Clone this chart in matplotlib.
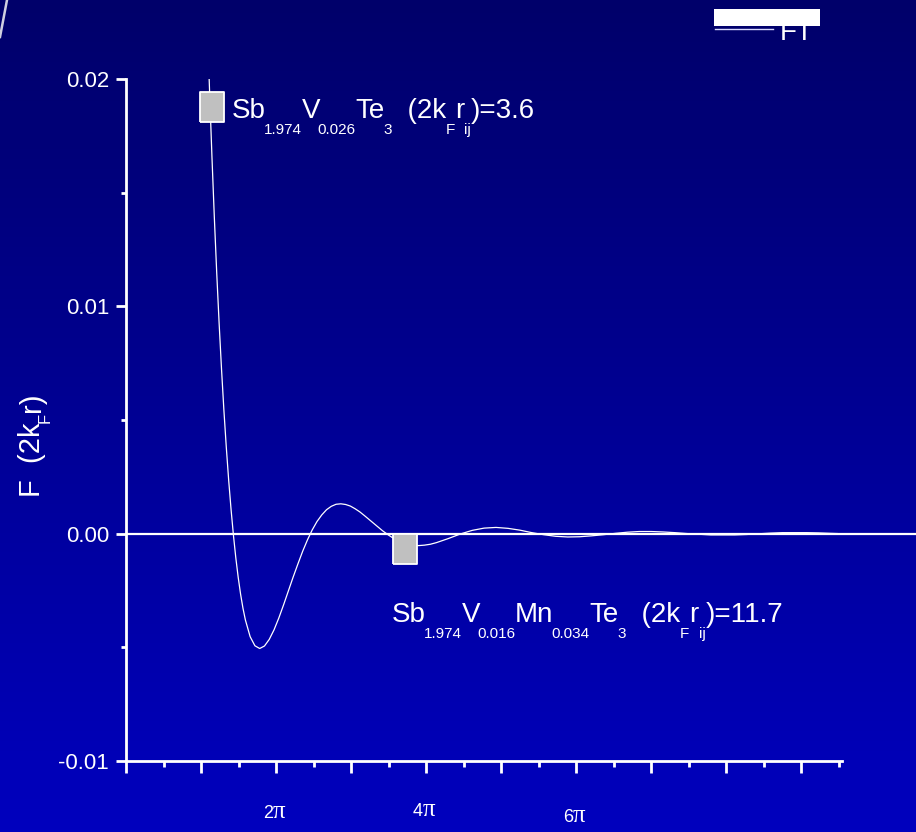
import matplotlib
matplotlib.use("Agg")
import matplotlib.pyplot as plt
import numpy as np
from matplotlib.colors import LinearSegmentedColormap
from matplotlib.lines import Line2D
from matplotlib.patches import Rectangle
from matplotlib.transforms import offset_copy, blended_transform_factory

SANS = ["Liberation Sans", "DejaVu Sans"]
SERIF = ["Liberation Serif", "DejaVu Serif"]
plt.rcParams["font.family"] = SANS

# RKKY range function F(2 kF r) sampled along 2 kF r
x_2kfr = [3.48, 3.5, 3.6, 3.7, 3.8, 3.9, 4.0, 4.1, 4.2, 4.3, 4.4, 4.5, 4.6,
          4.7, 4.8, 4.9, 5.0, 5.2, 5.4, 5.6, 5.8, 6.0, 6.2, 6.4, 6.6, 6.8,
          7.0, 7.2, 7.4, 7.6, 7.8, 8.0, 8.2, 8.4, 8.6, 8.8, 9.0, 9.2, 9.4,
          9.6, 9.8, 10.0, 10.25, 10.5, 10.75, 11.0, 11.25, 11.5, 11.75, 12.0,
          12.25, 12.5, 12.75, 13.0, 13.5, 14.0, 14.5, 15.0, 15.5, 16.0, 16.5,
          17.0, 17.5, 18.0, 18.5, 19.0, 19.5, 20.0, 20.5, 21.0, 21.5, 22.0,
          22.5, 23.0, 23.5, 24.0, 24.5, 25.0, 25.5, 26.0, 26.5, 27.0, 27.5,
          28.0, 28.5, 29.0, 29.5, 29.8]
F_vals = [0.02012, 0.01950, 0.01659, 0.01392, 0.01148, 0.00927, 0.00726,
          0.00544, 0.00382, 0.00236, 0.00107, -0.00007, -0.00107, -0.00193,
          -0.00267, -0.00329, -0.00380, -0.00454, -0.00494, -0.00506,
          -0.00495, -0.00466, -0.00424, -0.00372, -0.00314, -0.00253,
          -0.00192, -0.00134, -0.00078, -0.00028, 0.00016, 0.00053, 0.00082,
          0.00105, 0.00120, 0.00129, 0.00131, 0.00128, 0.00121, 0.00109,
          0.00095, 0.00078, 0.00056, 0.00034, 0.00012, -0.00007, -0.00024,
          -0.00037, -0.00046, -0.00051, -0.00053, -0.00051, -0.00047,
          -0.00040, -0.00022, -0.00002, 0.00014, 0.00024, 0.00027, 0.00023,
          0.00015, 0.00004, -0.00005, -0.00012, -0.00015, -0.00014, -0.00010,
          -0.00005, 0.00001, 0.00006, 0.00009, 0.00009, 0.00007, 0.00004,
          0.00000, -0.00003, -0.00006, -0.00006, -0.00006, -0.00004, -0.00001,
          0.00002, 0.00004, 0.00004, 0.00004, 0.00003, 0.00001, 0.00000]

# marked compositions: (2 kF r_ij) and F value
site_x = [3.6, 11.7]
site_F = [0.0188, -0.00067]
site_formula = [
    [("Sb", "m"), ("1.974", "s"), ("V", "m"), ("0.026", "s"), ("Te", "m"), ("3", "s")],
    [("Sb", "m"), ("1.974", "s"), ("V", "m"), ("0.016", "s"), ("Mn", "m"),
     ("0.034", "s"), ("Te", "m"), ("3", "s")],
]

x_major_mult = [0, 1, 2, 3, 4, 5, 6, 7, 8, 9]
x_labeled_mult = [2, 4, 6]
y_ticks = [-0.01, 0.0, 0.01, 0.02]
y_tick_labels = ["-0.01", "0.00", "0.01", "0.02"]

W, H = 916, 832
fig = plt.figure(figsize=(W / 100, H / 100), dpi=100)

# vertical blue gradient backdrop
bg = fig.add_axes([0, 0, 1, 1], zorder=-10)
grad = np.linspace(0, 1, 256).reshape(-1, 1)
bg_cmap = LinearSegmentedColormap.from_list("bg", ["#00006a", "#0000be"])
bg.imshow(grad, aspect="auto", cmap=bg_cmap, extent=[0, 1, 0, 1], origin="upper")
bg.set_axis_off()

ax = fig.add_axes([126 / W, 71.3 / H, 716.2 / W, 681.4 / H])
ax.patch.set_alpha(0)
ax.set_xlim(0, 30)
ax.set_ylim(-0.01, 0.02)

ax.plot(x_2kfr, F_vals, color="white", lw=0.9, zorder=3)
ax.axhline(0, xmin=0, xmax=(W - 126) / 716.2, color="white", lw=1.6,
           clip_on=False, zorder=2)

# gray rectangular markers
rect_marker = [(-0.397, -0.5), (0.397, -0.5), (0.397, 0.5), (-0.397, 0.5), (-0.397, -0.5)]
ax.plot(site_x, site_F, linestyle="none", marker=rect_marker, markersize=21,
        markerfacecolor="#c0c0c0", markeredgecolor="white", markeredgewidth=1.3,
        zorder=5, clip_on=False)

for side in ("top", "right"):
    ax.spines[side].set_visible(False)
for side in ("left", "bottom"):
    ax.spines[side].set_color("white")
    ax.spines[side].set_linewidth(2)

ax.set_xticks([k * np.pi for k in x_major_mult])
ax.set_xticklabels([])
ax.set_xticks([(k + 0.5) * np.pi for k in x_major_mult], minor=True)
ax.set_yticks(y_ticks)
ax.set_yticklabels(y_tick_labels)
ax.set_yticks([-0.005, 0.005, 0.015], minor=True)
ax.tick_params(axis="x", which="major", length=8.6, width=2, color="white")
ax.tick_params(axis="x", which="minor", length=4.3, width=2, color="white")
ax.tick_params(axis="y", which="major", length=7.2, width=2, color="white",
               labelcolor="white", labelsize=16, pad=5)
ax.tick_params(axis="y", which="minor", length=3.6, width=2, color="white")

renderer = fig.canvas.get_renderer()


def rich_text(x, y, transform, parts, rotation=0, zorder=6):
    """Lay out text runs (text, size, drop, family, kern) one after the other."""
    adv = 0.0
    for text, size, drop, family, kern in parts:
        if rotation == 90:
            ox, oy = drop, adv
        else:
            ox, oy = adv, -drop
        tr = offset_copy(transform, fig=fig, x=ox, y=oy, units="points")
        t = fig.text(x, y, text, transform=tr, fontsize=size, color="white",
                     rotation=rotation, rotation_mode="anchor", ha="left",
                     va="baseline", family=family, zorder=zorder)
        bb = t.get_window_extent(renderer)
        adv += (bb.height if rotation == 90 else bb.width) * 72.0 / fig.dpi + kern


MAIN, SUB, DROP = 20, 11, 11.5
kerning = {"V": -2.5, "Sb": -1.0, "Mn": -1.5, "Te": -1.0}


def formula_parts(runs):
    out = []
    for text, kind in runs:
        if kind == "m":
            out.append((text, MAIN, 0.0, SANS, kerning.get(text, 0.0)))
        else:
            out.append((text, SUB, DROP, SANS, 0.0))
    return out


label_pos = [(231.5, 117.7), (391.5, 621.7)]
for (px, py), formula, xv in zip(label_pos, site_formula, site_x):
    tail = [("  (2k", "m"), ("F", "s"), ("r", "m"), ("ij", "s"), (")=%.1f" % xv, "m")]
    rich_text(px / W, 1 - py / H, fig.transFigure, formula_parts(formula + tail))

# x tick labels written as multiples of pi
xlab_tr = blended_transform_factory(ax.transData, fig.transFigure)
xlab_baseline = [818, 816, 822]
for k, base in zip(x_labeled_mult, xlab_baseline):
    tr = offset_copy(xlab_tr, fig=fig, x=-13, y=0, units="dots")
    rich_text(k * np.pi, 1 - base / H, tr,
              [(str(k), 13, 0.0, SANS, -0.3), ("\u03c0", 18, 0.0, SERIF, 0.0)])

# y-axis title
rich_text(40 / W, 1 - 497 / H, fig.transFigure,
          [("F  (2k", 21, 0.0, SANS, 0.0), ("F", 12, 7.0, SANS, 0.0),
           ("r)", 21, 0.0, SANS, 0.0)], rotation=90)

# cropped legend block at the top right
fig.text(780 / W, 1 - 40 / H, "FT", color="white", fontsize=20, ha="left",
         va="baseline", zorder=5)
fig.add_artist(Rectangle((714 / W, 1 - 26 / H), 106 / W, 17 / H,
                         transform=fig.transFigure, facecolor="white",
                         edgecolor="none", zorder=7))
fig.add_artist(Line2D([715 / W, 773 / W], [1 - 29 / H, 1 - 29 / H],
                      transform=fig.transFigure, color="#d8d8ff", lw=1.0))
fig.add_artist(Line2D([0, 7 / W], [1 - 37 / H, 1], transform=fig.transFigure,
                      color="#d0d0e0", lw=1.8))

fig.savefig("out.png", dpi=100)
